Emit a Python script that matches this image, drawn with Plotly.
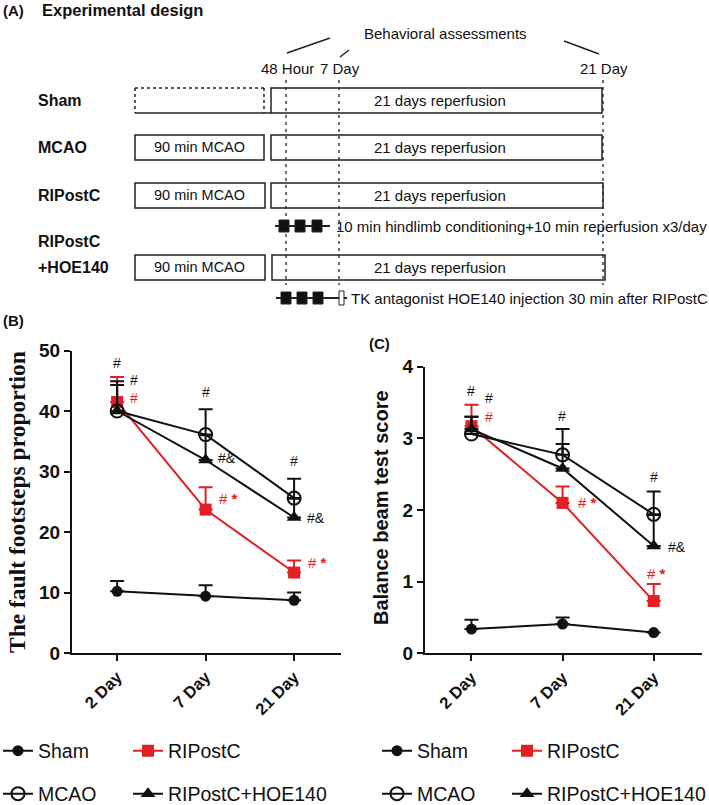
import plotly.graph_objects as go

# ---------------- data ----------------
days = ["2 Day", "7 Day", "21 Day"]

# Panel B: fault footsteps proportion
sham_fault = [10.2, 9.4, 8.7]
sham_fault_err = [1.7, 1.8, 1.3]
mcao_fault = [40.0, 36.1, 25.6]
mcao_fault_err = [4.9, 4.2, 3.2]
ripostc_fault = [41.5, 23.7, 13.3]
ripostc_fault_err = [4.1, 3.7, 2.0]
hoe_fault = [40.0, 31.9, 22.4]
hoe_fault_err = [4.3, 4.1, 3.1]

# Panel C: balance beam test score
sham_beam = [0.34, 0.41, 0.29]
sham_beam_err = [0.13, 0.09, 0.0]
mcao_beam = [3.06, 2.77, 1.94]
mcao_beam_err = [0.24, 0.36, 0.32]
ripostc_beam = [3.17, 2.10, 0.73]
ripostc_beam_err = [0.30, 0.23, 0.24]
hoe_beam = [3.13, 2.58, 1.50]
hoe_beam_err = [0.17, 0.34, 0.43]

group_names = ["Sham", "RIPostC", "MCAO", "RIPostC+HOE140"]

# ---------------- styles ----------------
W, H = 709, 805
RED = "#e31e24"
BLK = "#111111"
LINE = "#222222"
ARIAL = "Liberation Sans, Arial, sans-serif"
SERIF = "Liberation Serif, Times New Roman, serif"


def X(px):
    return px / W


def Y(py):
    return 1 - py / H


fig = go.Figure()

styles = {
    "Sham": dict(color=BLK, marker=dict(symbol="circle", size=11, color=BLK), lw=85),
    "RIPostC": dict(color=RED, marker=dict(symbol="square", size=12, color=RED), lw=180),
    "MCAO": dict(color=BLK, marker=dict(symbol="circle-open", size=13, color=BLK,
                                        line=dict(color=BLK, width=2)), lw=85),
    "RIPostC+HOE140": dict(color=BLK, marker=dict(symbol="triangle-up", size=13, color=BLK), lw=180),
}

panel_B = {
    "Sham": (sham_fault, sham_fault_err, "legend"),
    "RIPostC": (ripostc_fault, ripostc_fault_err, "legend"),
    "MCAO": (mcao_fault, mcao_fault_err, "legend2"),
    "RIPostC+HOE140": (hoe_fault, hoe_fault_err, "legend2"),
}
panel_C = {
    "Sham": (sham_beam, sham_beam_err, "legend3"),
    "RIPostC": (ripostc_beam, ripostc_beam_err, "legend3"),
    "MCAO": (mcao_beam, mcao_beam_err, "legend4"),
    "RIPostC+HOE140": (hoe_beam, hoe_beam_err, "legend4"),
}

for panel, xa, ya in [(panel_B, "x", "y"), (panel_C, "x2", "y2")]:
    for name in group_names:
        vals, errs, leg = panel[name]
        st = styles[name]
        fig.add_trace(go.Scatter(
            x=days, y=vals, name=name, mode="lines+markers",
            xaxis=xa, yaxis=ya, legend=leg, legendwidth=st["lw"],
            line=dict(color=st["color"], width=2),
            marker=st["marker"],
            error_y=dict(type="data", symmetric=False, array=errs,
                         arrayminus=[0] * len(errs), color=st["color"],
                         thickness=2, width=7),
            cliponaxis=False,
        ))

# ---------------- axes ----------------
tickfont = dict(family=ARIAL, size=19, color=BLK, weight="bold")
xtickfont = dict(family=ARIAL, size=16.5, color=BLK, weight="bold")
common_x = dict(type="category", showline=True, linecolor=BLK, linewidth=2,
                ticks="outside", ticklen=6, tickwidth=2, tickcolor=BLK,
                tickangle=-45, tickfont=xtickfont, showgrid=False,
                zeroline=False, range=[-0.51, 2.53], fixedrange=True)
common_y = dict(showline=True, linecolor=BLK, linewidth=2, ticks="outside",
                ticklen=6, tickwidth=2, tickcolor=BLK, tickfont=tickfont,
                showgrid=False, zeroline=False, fixedrange=True)

fig.update_layout(
    xaxis=dict(domain=[X(72), X(341)], anchor="y", **common_x),
    yaxis=dict(domain=[Y(653), Y(350.5)], anchor="x", range=[0, 50],
               tickvals=[0, 10, 20, 30, 40, 50], **common_y),
    xaxis2=dict(domain=[X(425), X(702)], anchor="y2", **common_x),
    yaxis2=dict(domain=[Y(653.4), Y(366.7)], anchor="x2", range=[0, 4],
                tickvals=[0, 1, 2, 3, 4], **common_y),
)

# ---------------- legends ----------------
legfont = dict(family=ARIAL, size=19.5, color=BLK)


def leg(xpx, ypx):
    return dict(orientation="h", x=X(xpx), y=Y(ypx), xanchor="left",
                yanchor="middle", font=legfont,
                bgcolor="rgba(0,0,0,0)", borderwidth=0, itemwidth=30,
                tracegroupgap=0)


fig.update_layout(
    legend=leg(-2, 751),
    legend2=leg(-2, 794),
    legend3=leg(377, 751),
    legend4=leg(377, 794),
)

annotations = []

# ---------------- significance marks ----------------
def mark(text, x, y, color, xref, yref, anchor="center", size=14):
    annotations.append(dict(text=text, x=x, y=y, xref=xref, yref=yref,
                            showarrow=False, xanchor=anchor, yanchor="middle",
                            font=dict(family=ARIAL, size=size, color=color)))


# panel B (data coordinates: category index, value)
mark("#", 0, 47.9, BLK, "x", "y")
mark("#", 0.19, 45.2, BLK, "x", "y")
mark("#", 0.19, 42.1, RED, "x", "y")
mark("#", 1.0, 43.1, BLK, "x", "y")
mark("#&", 1.12, 32.2, BLK, "x", "y", "left")
mark("#", 2.0, 31.7, BLK, "x", "y")
mark("#&", 2.12, 22.3, BLK, "x", "y", "left")
mark("# <b>*</b>", 1.13, 25.6, RED, "x", "y", "left", 15)
mark("# <b>*</b>", 2.14, 14.9, RED, "x", "y", "left", 15)
# panel C
mark("#", 0, 3.66, BLK, "x2", "y2")
mark("#", 0.19, 3.56, BLK, "x2", "y2")
mark("#", 0.19, 3.30, RED, "x2", "y2")
mark("#", 0.99, 3.31, BLK, "x2", "y2")
mark("# <b>*</b>", 1.15, 2.10, RED, "x2", "y2", "left", 15)
mark("#", 2.0, 2.46, BLK, "x2", "y2")
mark("#&", 2.13, 1.48, BLK, "x2", "y2", "left")
mark("# <b>*</b>", 2.03, 1.12, RED, "x2", "y2", "center", 15)

# ---------------- titles / panel labels ----------------
def ptext(text, xpx, ypx, size, family=ARIAL, anchor="left", color=BLK, angle=0):
    annotations.append(dict(text=text, x=X(xpx), y=Y(ypx), xref="paper",
                            yref="paper", showarrow=False, xanchor=anchor,
                            yanchor="middle", textangle=angle,
                            font=dict(family=family, size=size, color=color)))


ptext("<b>The fault footsteps proportion</b>", 17, 502, 23.5, SERIF, "center", angle=-90)
ptext("<b>Balance beam test score</b>", 381, 508, 20, ARIAL, "center", angle=-90)
ptext("<b>(A)</b>", 1, 10, 15)
ptext("<b>(B)</b>", 1, 320, 15)
ptext("<b>(C)</b>", 367, 343, 15)

# ---------------- panel A schematic ----------------
shapes = []


def seg(x0, y0, x1, y1, dash="solid", width=1.5, color=LINE):
    shapes.append(dict(type="line", xref="paper", yref="paper",
                       x0=X(x0), y0=Y(y0), x1=X(x1), y1=Y(y1),
                       line=dict(color=color, width=width, dash=dash)))


def box(x0, y0, x1, y1, fill="rgba(0,0,0,0)", width=1.5):
    shapes.append(dict(type="rect", xref="paper", yref="paper",
                       x0=X(x0), y0=Y(y0), x1=X(x1), y1=Y(y1),
                       fillcolor=fill, line=dict(color=LINE, width=width)))


ptext("<b>Experimental design</b>", 40, 10, 16.5)
ptext("Behavioral assessments", 445, 33, 15, anchor="center")
seg(287, 53, 330, 38)
seg(340, 57, 349, 50)
seg(564, 41, 599, 54)
ptext("48 Hour", 287, 68, 15, anchor="center")
ptext("7 Day", 340, 68, 15, anchor="center")
ptext("21 Day", 604, 68, 15, anchor="center")

# dashed assessment lines
for xv in [286, 339, 603]:
    seg(xv, 80, xv, 285, dash="3px,4px", width=1.3)

# Sham row
seg(135, 88, 264, 88, dash="dot")
seg(135, 88, 135, 113, dash="dot")
seg(264, 88, 264, 113, dash="dot")
seg(135, 113, 271, 113)
box(271, 88, 602, 113)
ptext("<b>Sham</b>", 36, 100, 16)
ptext("21 days reperfusion", 440, 100, 15, anchor="center")

# MCAO row
box(135, 135, 264, 160)
box(271, 135, 602, 160)
ptext("<b>MCAO</b>", 36, 147, 16)
ptext("90 min MCAO", 199, 147, 14.5, anchor="center")
ptext("21 days reperfusion", 440, 147, 15, anchor="center")

# RIPostC row
box(135, 183, 265, 208)
box(271, 183, 603, 208)
ptext("<b>RIPostC</b>", 36, 195, 16)
ptext("90 min MCAO", 199, 195, 14.5, anchor="center")
ptext("21 days reperfusion", 440, 195, 15, anchor="center")

# conditioning bar
seg(275, 226, 330, 226, width=1.8)
for a, b in [(279, 289), (295, 305), (312, 322)]:
    box(a, 220, b, 232, fill=BLK, width=1)
ptext("10 min hindlimb conditioning+10 min reperfusion x3/day", 334, 226, 15)

# RIPostC + HOE140 row
box(135, 255, 265, 280)
box(272, 255, 605, 280)
ptext("<b>RIPostC</b>", 36, 242, 16)
ptext("<b>+HOE140</b>", 36, 268, 16)
ptext("90 min MCAO", 199, 267, 14.5, anchor="center")
ptext("21 days reperfusion", 440, 267, 15, anchor="center")

seg(276, 298, 347, 298, width=1.8)
for a, b in [(281, 291), (297, 307), (313, 323)]:
    box(a, 292, b, 304, fill=BLK, width=1)
box(339, 291, 344, 305, fill="white", width=1)
ptext("TK antagonist HOE140 injection 30 min after RIPostC", 349, 298, 15)

fig.update_layout(
    width=W, height=H,
    margin=dict(l=0, r=0, t=0, b=0, autoexpand=False),
    paper_bgcolor="white", plot_bgcolor="white",
    annotations=annotations, shapes=shapes,
    font=dict(family=ARIAL, color=BLK),
    hovermode=False,
)

fig.write_html("out.html", config={"displayModeBar": False},
               post_script="document.body.style.margin='0px';")
